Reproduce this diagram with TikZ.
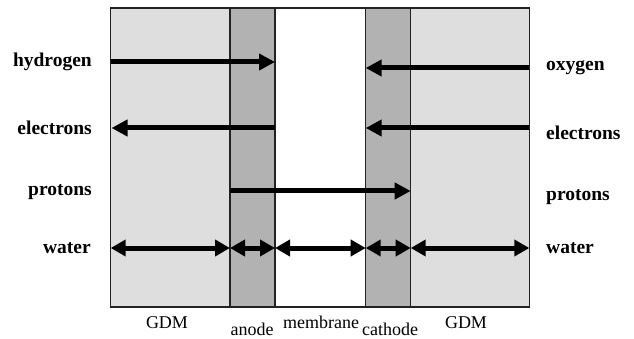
\documentclass[tikz,border=0pt]{standalone}
\usepackage{fontspec}
\setmainfont{Liberation Serif}
\usetikzlibrary{arrows.meta}
\definecolor{gdmgray}{HTML}{DEDEDE}
\definecolor{layergray}{HTML}{B2B2B2}
\definecolor{edgegray}{HTML}{222222}
\tikzset{
  flow/.style={line width=5pt, -{Triangle[length=16pt,width=16pt]}},
  flowboth/.style={line width=5pt, {Triangle[length=15pt,width=16pt]}-{Triangle[length=15pt,width=16pt]}},
  species/.style={font=\fontsize{19.5}{21}\selectfont\bfseries, inner sep=0pt},
  region/.style={font=\fontsize{18}{19}\selectfont, inner sep=0pt},
  layer/.style={draw=edgegray, line width=1.5pt}
}
\begin{document}
\begin{tikzpicture}[x=1pt,y=-1pt]
\useasboundingbox (0,0) rectangle (634,339);
% cell layers
\fill[gdmgray] (110.7,8) rectangle (230,307);
\fill[layergray] (230,8) rectangle (275,307);
\fill[white] (275,8) rectangle (365.7,307);
\fill[layergray] (365.7,8) rectangle (410.7,307);
\fill[gdmgray] (410.7,8) rectangle (529.3,307);
\draw[layer] (110.7,8) rectangle (529.3,307);
\draw[layer] (230,8) -- (230,307);
\draw[layer] (275,8) -- (275,307);
\draw[layer] (365.7,8) -- (365.7,307);
\draw[layer] (410.7,8) -- (410.7,307);

% anchor points on the layer boundaries
\coordinate (hL) at (110.7,62);  \coordinate (hR) at (275,62);
\coordinate (oR) at (529.3,68);  \coordinate (oL) at (365.7,68);
\coordinate (eLa) at (275,128);  \coordinate (eLb) at (111.5,128);
\coordinate (eRa) at (529.3,128);\coordinate (eRb) at (365.7,128);
\coordinate (pA) at (230,191);   \coordinate (pC) at (410.7,191);
\coordinate (w0) at (110.7,248); \coordinate (w1) at (230,248);
\coordinate (w2) at (275,248);   \coordinate (w3) at (365.7,248);
\coordinate (w4) at (410.7,248); \coordinate (w5) at (529.3,248);

% fluxes
\draw[flow] (hL) -- (hR);
\draw[flow] (oR) -- (oL);
\draw[flow] (eLa) -- (eLb);
\draw[flow] (eRa) -- (eRb);
\draw[flow] (pA) -- (pC);
\draw[flowboth] (w0) -- (w1);
\draw[flowboth] (w1) -- (w2);
\draw[flowboth] (w2) -- (w3);
\draw[flowboth] (w3) -- (w4);
\draw[flowboth] (w4) -- (w5);

% species labels
\node[species, anchor=east] (lh) at (92,62) {hydrogen};
\node[species, anchor=east] (le) at (92,128) {electrons};
\node[species, anchor=east] (lp) at (92,192) {protons};
\node[species, anchor=east] (lw) at (91,248) {water};
\node[species, anchor=west] (ro) at (546,68) {oxygen};
\node[species, anchor=west] (re) at (546,133) {electrons};
\node[species, anchor=west] (rp) at (546,197) {protons};
\node[species, anchor=west] (rw) at (546,248) {water};

% region labels
\node[region] (g1) at (167,323) {GDM};
\node[region] (an) at (252,329) {anode};
\node[region] (mb) at (321,322) {membrane};
\node[region] (ca) at (390,329) {cathode};
\node[region] (g2) at (466,323) {GDM};
\end{tikzpicture}
\end{document}
